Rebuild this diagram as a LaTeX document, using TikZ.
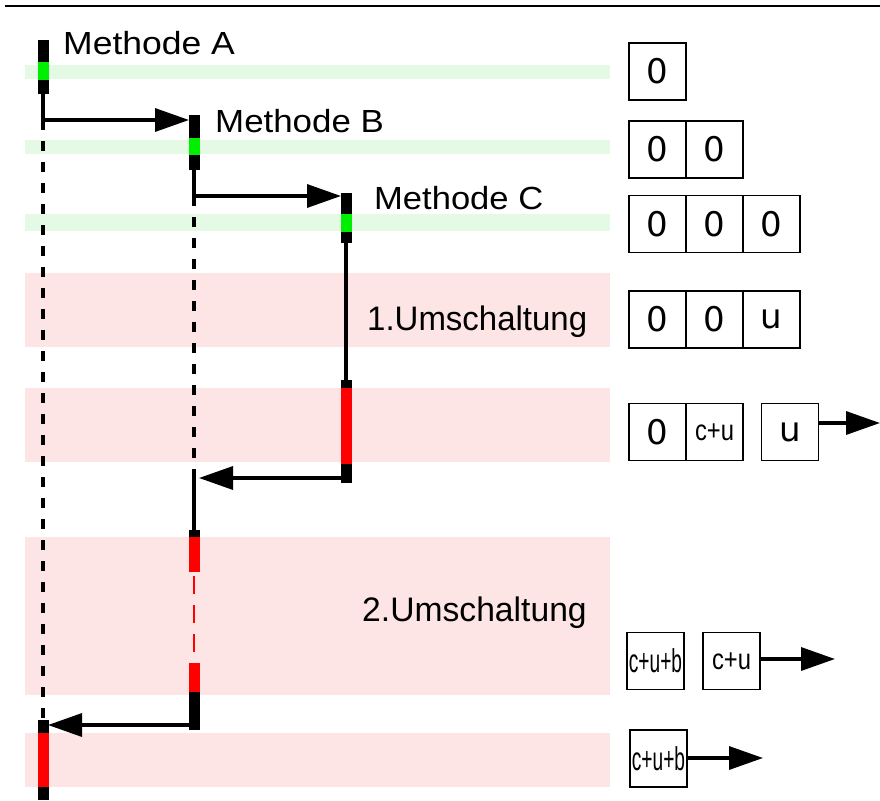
\documentclass[tikz,border=0pt]{standalone}
\usepackage{fontspec}
\setmainfont{Liberation Sans}
\newfontfamily\cellfont{DejaVu Sans}
\usetikzlibrary{arrows.meta}
\definecolor{bandgreen}{RGB}{228,250,228}
\definecolor{bandred}{RGB}{253,229,229}
\definecolor{actgreen}{RGB}{0,238,0}
\definecolor{actred}{RGB}{255,0,0}
\tikzset{
  life/.style={line width=3.2pt},
  lifedash/.style={line width=3.2pt, dash pattern=on 10pt off 11pt},
  reddash/.style={line width=2.8pt, actred, dash pattern=on 18pt off 11pt, dash phase=-4pt},
  msg/.style={line width=3.4pt, -{Triangle[length=34pt,width=23pt]}},
  label/.style={anchor=base west, inner sep=0pt, font=\fontsize{32}{32}\selectfont},
  phase/.style={anchor=base west, inner sep=0pt, font=\fontsize{34}{34}\selectfont},
  cell/.style={draw, line width=1.8pt, minimum width=57pt, minimum height=57pt,
    inner sep=0pt, font=\cellfont\fontsize{34}{34}\selectfont},
  narrow/.style={font=\fontsize{29}{29}\selectfont},
  narrowbig/.style={font=\fontsize{33}{33}\selectfont}
}
\newcommand{\sqz}[2]{\scalebox{#1}[1]{#2}}
\begin{document}
\begin{tikzpicture}[x=1pt,y=-1pt]
\useasboundingbox (0,0) rectangle (880,800);
\draw[line width=1.8pt] (5,6) -- (880,6);

% background bands
\fill[bandgreen] (25,65) rectangle (610,79);
\fill[bandgreen] (25,140) rectangle (610,154);
\fill[bandgreen] (25,214) rectangle (610,231);
\fill[bandred] (25,273) rectangle (610,347);
\fill[bandred] (25,388) rectangle (610,462);
\fill[bandred] (25,537) rectangle (610,695);
\fill[bandred] (25,733) rectangle (610,787);

% lifeline A
\coordinate (a1) at (43,94);
\coordinate (a2) at (43,120);
\coordinate (a3) at (43,720);
\coordinate (a4) at (48,725);
\draw[life] (a1) -- (a2);
\draw[lifedash] (a2) -- (a3);
\fill (38,40) rectangle (48.5,94);
\fill[actgreen] (38,62) rectangle (48.5,80);
\fill (38,720) rectangle (48.5,800);
\fill[actred] (38,733) rectangle (48.5,787);

% lifeline B
\coordinate (b0) at (189,120);
\coordinate (b1) at (194,170);
\coordinate (b2) at (194,196);
\coordinate (b3) at (194,478);
\coordinate (b3e) at (199,478);
\coordinate (b4) at (194,530);
\coordinate (b5) at (194,572);
\coordinate (b6) at (194,663);
\coordinate (b7) at (194,725);
\draw[life] (b1) -- (b2);
\draw[lifedash] (b2) -- (b3);
\draw[life] (b3) -- (b4);
\draw[reddash] (b5) -- (b6);
\fill (189,115) rectangle (199.5,170);
\fill[actgreen] (189,138) rectangle (199.5,155);
\fill (189,530) rectangle (199.5,572);
\fill[actred] (189,537) rectangle (199.5,572);
\fill (189,663) rectangle (199.5,730);
\fill[actred] (189,663) rectangle (199.5,692);

% lifeline C
\coordinate (c0) at (341,196);
\coordinate (c1) at (346,243);
\coordinate (c2) at (346,380);
\coordinate (c3) at (346,478);
\draw[life] (c1) -- (c2);
\fill (341,193) rectangle (351.5,243);
\fill[actgreen] (341,214) rectangle (351.5,232);
\fill (341,380) rectangle (351.5,483);
\fill[actred] (341,388) rectangle (351.5,464);

% calls and returns
\draw[msg] (a2) -- (b0);
\draw[msg] (b2) -- (c0);
\draw[msg] (c3) -- (b3e);
\draw[msg] (b7) -- (a4);

% labels
\node[label] (lA) at (63,55) {\sqz{1.11}{Methode A}};
\node[label] (lB) at (215,132) {\sqz{1.09}{Methode B}};
\node[label] (lC) at (374,209) {\sqz{1.08}{Methode C}};
\node[phase] (u1) at (367,330) {\sqz{0.97}{1.Umschaltung}};
\node[phase] (u2) at (362,621) {\sqz{0.99}{2.Umschaltung}};

% stack cells
\node[cell] (s1a) at (657.5,71.5) {0};

\node[cell] (s2a) at (657.5,149.5) {0};
\node[cell] (s2b) at (714.5,149.5) {0};

\node[cell] (s3a) at (657.5,224) {0};
\node[cell] (s3b) at (714.5,224) {0};
\node[cell] (s3c) at (771.5,224) {0};

\node[cell] (s4a) at (657.5,319.5) {0};
\node[cell] (s4b) at (714.5,319.5) {0};
\node[cell] (s4c) at (771.5,319.5) {u};

\node[cell] (s5a) at (657.5,432) {0};
\node[cell, narrow] (s5b) at (714.5,432) {\sqz{0.82}{c+u}};
\node[cell] (s5c) at (790,432) {u};
\coordinate (o5) at (880,423);
\draw[msg] (s5c.east |- o5) -- (o5);

\node[cell, narrowbig] (s6a) at (655.5,661) {\sqz{0.58}{c+u+b}};
\node[cell, narrow] (s6b) at (731.5,661) {\sqz{0.82}{c+u}};
\coordinate (o6) at (835,659);
\draw[msg] (s6b.east |- o6) -- (o6);

\node[cell, narrowbig] (s7a) at (658.5,758.5) {\sqz{0.58}{c+u+b}};
\coordinate (o7) at (763,758);
\draw[msg] (s7a.east |- o7) -- (o7);
\end{tikzpicture}
\end{document}
